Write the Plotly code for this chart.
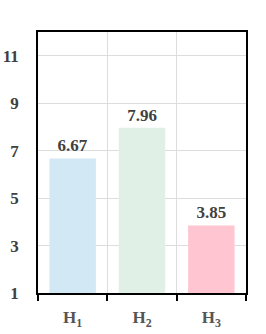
import plotly.graph_objects as go

categories = ["H<sub>1</sub>", "H<sub>2</sub>", "H<sub>3</sub>"]
values = [6.67, 7.96, 3.85]
colors = ["#d3e8f5", "#e0f0e6", "#ffc5d1"]
y_ticks = [1, 3, 5, 7, 9, 11]

x_pos = list(range(len(categories)))
font_family = "Liberation Serif"

fig = go.Figure(go.Bar(
    x=x_pos, y=values,
    marker=dict(color=colors, line=dict(width=0)),
    width=0.67,
    text=[f"<b>{v:.2f}</b>" for v in values],
    textposition="outside",
    textfont=dict(family=font_family, size=17, color="#404040"),
    cliponaxis=False,
    hoverinfo="skip",
))

fig.update_layout(
    width=266, height=334,
    margin=dict(l=38, r=20, t=32, b=41, autoexpand=False),
    paper_bgcolor="white", plot_bgcolor="white",
    showlegend=False,
    font=dict(family=font_family, color="#404040"),
)
fig.update_xaxes(
    range=[-0.5, 2.5], automargin=False,
    tickvals=x_pos, ticktext=[f"<b>{c}</b>" for c in categories],
    ticks="", showgrid=False,
    tickfont=dict(family=font_family, size=17, color="#555555"),
    ticklabelstandoff=8,
    showline=True, linecolor="black", linewidth=2, mirror=True,
    minor=dict(tickvals=[-0.5, 0.5, 1.5, 2.5], ticks="outside", ticklen=6,
               tickcolor="black", tickwidth=1.5, showgrid=True,
               gridcolor="#dddddd", gridwidth=1),
    zeroline=False,
)
fig.update_yaxes(
    range=[1, 12], automargin=False,
    tickvals=y_ticks, ticktext=[f"<b>{t}</b>" for t in y_ticks],
    ticks="", showgrid=True, gridcolor="#dddddd", gridwidth=1,
    tickfont=dict(family=font_family, size=17, color="#404040"),
    ticklabelstandoff=14,
    showline=True, linecolor="black", linewidth=1.5, mirror=True,
    zeroline=False,
)

fig.write_html("out.html", config={"displayModeBar": False},
               post_script="document.body.style.margin='0';")
